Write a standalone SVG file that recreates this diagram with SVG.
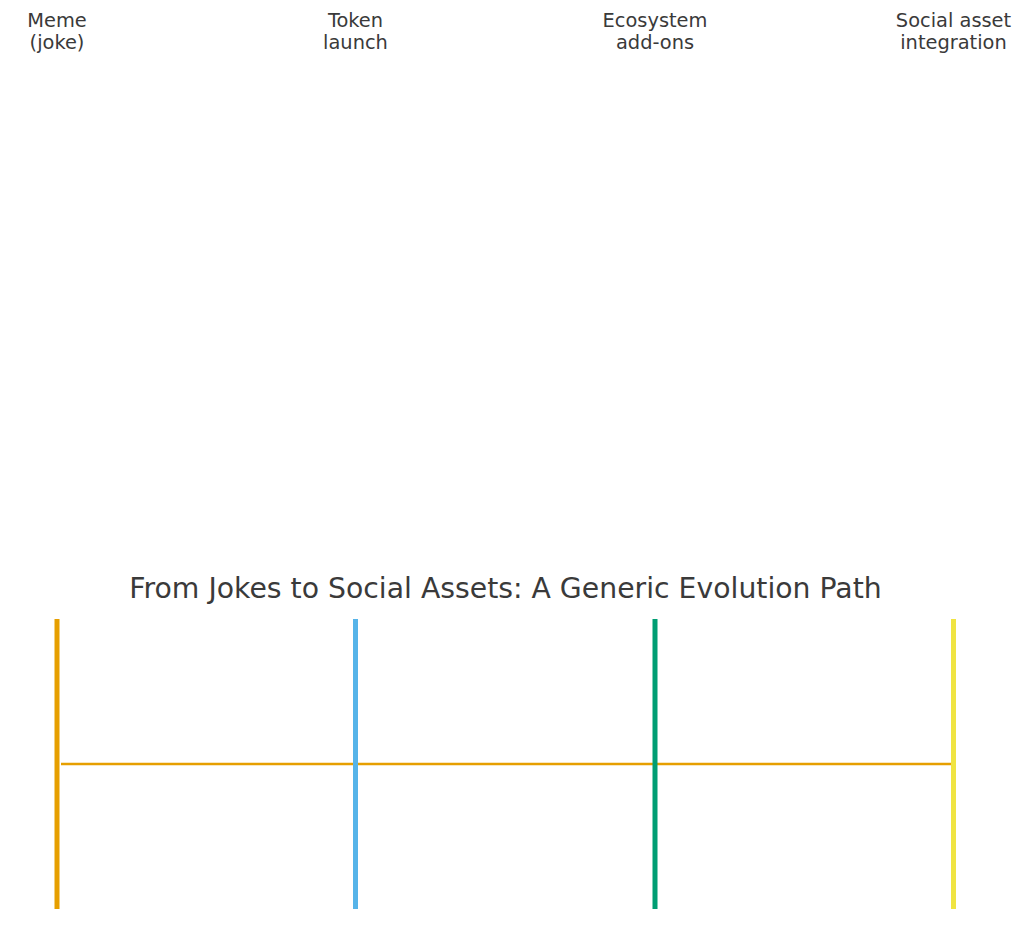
<svg xmlns="http://www.w3.org/2000/svg" width="1024" height="933" viewBox="0 0 1024 933">
<style>
.lbl{font-family:"DejaVu Sans",sans-serif;font-size:19.4px;fill:#3a3a3a;text-anchor:middle}
.title{font-family:"DejaVu Sans",sans-serif;font-size:28.3px;fill:#3a3a3a;text-anchor:middle}
.bar{stroke-width:5;fill:none}
</style>
<rect width="1024" height="933" fill="#ffffff"/>
<g id="connectors">
<line x1="61" y1="764" x2="951" y2="764" stroke="#E69F00" stroke-width="2.5"/>
</g>
<g id="stage1">
<line class="bar" x1="57" y1="619" x2="57" y2="909" stroke="#E69F00"/>
<text class="lbl" x="57" y="27">Meme</text>
<text class="lbl" x="57" y="49">(joke)</text>
</g>
<g id="stage2">
<line class="bar" x1="355.5" y1="619" x2="355.5" y2="909" stroke="#56B4E9"/>
<text class="lbl" x="355.5" y="27">Token</text>
<text class="lbl" x="355.5" y="49">launch</text>
</g>
<g id="stage3">
<line class="bar" x1="655" y1="619" x2="655" y2="909" stroke="#009E73"/>
<text class="lbl" x="655" y="27">Ecosystem</text>
<text class="lbl" x="655" y="49">add-ons</text>
</g>
<g id="stage4">
<line class="bar" x1="953.5" y1="619" x2="953.5" y2="909" stroke="#F0E442"/>
<text class="lbl" x="953.5" y="27">Social asset</text>
<text class="lbl" x="953.5" y="49">integration</text>
</g>
<text class="title" x="505.5" y="598">From Jokes to Social Assets: A Generic Evolution Path</text>
</svg>
